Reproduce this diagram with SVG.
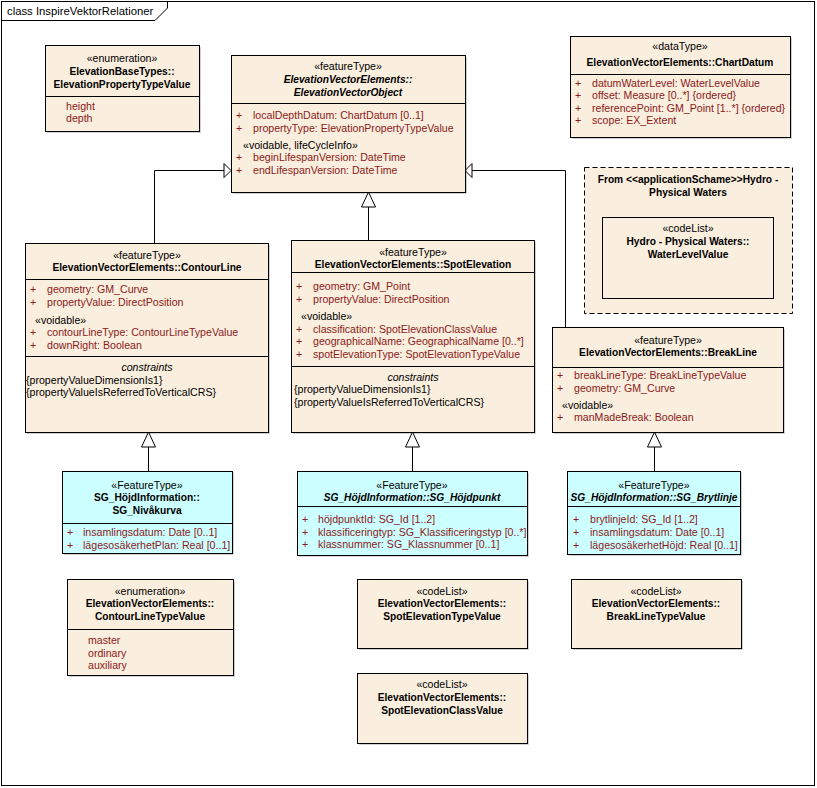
<svg xmlns="http://www.w3.org/2000/svg" width="817" height="788" viewBox="0 0 817 788">
<style>
text{font-family:"Liberation Sans",Arial,sans-serif;font-size:10.6px;fill:#000}
.c{text-anchor:middle}
.b{font-weight:bold;font-size:10.2px}
.bi{font-weight:bold;font-style:italic;font-size:10.2px}
.i{font-style:italic}
.a{fill:#8B1A1A}
.box{fill:#FAEEDE;stroke:#000;stroke-width:1}
.cy{fill:#CCFFFF;stroke:#000;stroke-width:1}
.sh{fill:#000;opacity:0.18}
.ln{stroke:#000;stroke-width:1;fill:none}
.tri{fill:#fff;stroke:#000;stroke-width:1}
</style>
<rect x="0" y="0" width="817" height="788" fill="#fff"/>
<g id="frame">
<rect x="1.5" y="1.5" width="813" height="784" fill="#fff" stroke="#000"/>
<path d="M1.5,20.5 H155 L167.5,8 V1.5" class="ln"/>
<text x="7" y="15" style="font-size:11.3px">class InspireVektorRelationer</text>
</g>

<g id="connectors">
<path d="M154.5,243 V170.5 H224" class="ln"/>
<polygon points="231,170.5 224,163.5 224,177.5" class="tri"/>
<path d="M368.5,240 V207" class="ln"/>
<polygon points="368.5,192 361.5,207 375.5,207" class="tri"/>
<path d="M565.5,327 V170.5 H472" class="ln"/>
<polygon points="465,170.5 472,163.5 472,177.5" class="tri"/>
<path d="M148.5,471 V447" class="ln"/>
<polygon points="148.5,432 141.5,447 155.5,447" class="tri"/>
<path d="M412.5,471 V447" class="ln"/>
<polygon points="412.5,432 405.5,447 419.5,447" class="tri"/>
<path d="M654.5,471 V447" class="ln"/>
<polygon points="654.5,432 647.5,447 661.5,447" class="tri"/>
</g>

<g id="ElevationPropertyTypeValue">
<rect x="47" y="47" width="154" height="86" class="sh"/>
<rect x="45.5" y="45.5" width="154" height="86" class="box"/>
<text x="122" y="62" class="c">«enumeration»</text>
<text x="122" y="75" class="c b">ElevationBaseTypes::</text>
<text x="122" y="88" class="c b">ElevationPropertyTypeValue</text>
<line x1="45.5" y1="96.5" x2="199.5" y2="96.5" class="ln"/>
<text x="66" y="110" class="a">height</text>
<text x="66" y="122" class="a">depth</text>
</g>

<g id="ElevationVectorObject">
<rect x="233" y="57" width="234" height="137" class="sh"/>
<rect x="231.5" y="55.5" width="234" height="137" class="box"/>
<text x="348" y="70" class="c">«featureType»</text>
<text x="348" y="83" class="c bi">ElevationVectorElements::</text>
<text x="348" y="96" class="c bi">ElevationVectorObject</text>
<line x1="231.5" y1="103.5" x2="465.5" y2="103.5" class="ln"/>
<text x="236" y="119" class="a">+</text><text x="253" y="119" class="a">localDepthDatum: ChartDatum [0..1]</text>
<text x="236" y="132" class="a">+</text><text x="253" y="132" class="a">propertyType: ElevationPropertyTypeValue</text>
<text x="243" y="149">«voidable, lifeCycleInfo»</text>
<text x="236" y="161" class="a">+</text><text x="253" y="161" class="a">beginLifespanVersion: DateTime</text>
<text x="236" y="174" class="a">+</text><text x="253" y="174" class="a">endLifespanVersion: DateTime</text>
</g>

<g id="ChartDatum">
<rect x="572" y="38" width="220" height="101" class="sh"/>
<rect x="570.5" y="36.5" width="220" height="101" class="box"/>
<text x="680" y="50" class="c">«dataType»</text>
<text x="680" y="66" class="c b">ElevationVectorElements::ChartDatum</text>
<line x1="570.5" y1="74.5" x2="790.5" y2="74.5" class="ln"/>
<text x="575" y="87" class="a">+</text><text x="592" y="87" class="a">datumWaterLevel: WaterLevelValue</text>
<text x="575" y="99" class="a">+</text><text x="592" y="99" class="a">offset: Measure [0..*] {ordered}</text>
<text x="575" y="112" class="a">+</text><text x="592" y="112" class="a">referencePoint: GM_Point [1..*] {ordered}</text>
<text x="575" y="124" class="a">+</text><text x="592" y="124" class="a">scope: EX_Extent</text>
</g>

<g id="HydroPackage">
<rect x="584.5" y="167.5" width="208" height="146" fill="#FAEEDE" stroke="#000" stroke-dasharray="5,3"/>
<text x="688" y="183" class="c b">From &lt;&lt;applicationSchame&gt;&gt;Hydro -</text>
<text x="688" y="196" class="c b">Physical Waters</text>
<g id="WaterLevelValue">
<rect x="602.5" y="217.5" width="171" height="81" class="box"/>
<text x="688" y="232" class="c">«codeList»</text>
<text x="688" y="245" class="c b">Hydro - Physical Waters::</text>
<text x="688" y="258" class="c b">WaterLevelValue</text>
</g>
</g>

<g id="ContourLine">
<rect x="27" y="245" width="243" height="189" class="sh"/>
<rect x="25.5" y="243.5" width="243" height="189" class="box"/>
<text x="147" y="259" class="c">«featureType»</text>
<text x="147" y="271" class="c b">ElevationVectorElements::ContourLine</text>
<line x1="25.5" y1="279.5" x2="268.5" y2="279.5" class="ln"/>
<text x="30" y="293" class="a">+</text><text x="47" y="293" class="a">geometry: GM_Curve</text>
<text x="30" y="306" class="a">+</text><text x="47" y="306" class="a">propertyValue: DirectPosition</text>
<text x="35" y="324">«voidable»</text>
<text x="30" y="336" class="a">+</text><text x="47" y="336" class="a">contourLineType: ContourLineTypeValue</text>
<text x="30" y="349" class="a">+</text><text x="47" y="349" class="a">downRight: Boolean</text>
<line x1="25.5" y1="356.5" x2="268.5" y2="356.5" class="ln"/>
<text x="147" y="371" class="c i">constraints</text>
<text x="26" y="384">{propertyValueDimensionIs1}</text>
<text x="26" y="396">{propertyValueIsReferredToVerticalCRS}</text>
</g>

<g id="SpotElevation">
<rect x="293" y="242" width="243" height="192" class="sh"/>
<rect x="291.5" y="240.5" width="243" height="192" class="box"/>
<text x="413" y="256" class="c">«featureType»</text>
<text x="413" y="268" class="c b">ElevationVectorElements::SpotElevation</text>
<line x1="291.5" y1="272.5" x2="534.5" y2="272.5" class="ln"/>
<text x="296" y="290" class="a">+</text><text x="313" y="290" class="a">geometry: GM_Point</text>
<text x="296" y="303" class="a">+</text><text x="313" y="303" class="a">propertyValue: DirectPosition</text>
<text x="301" y="320">«voidable»</text>
<text x="296" y="333" class="a">+</text><text x="313" y="333" class="a">classification: SpotElevationClassValue</text>
<text x="296" y="345" class="a">+</text><text x="313" y="345" class="a">geographicalName: GeographicalName [0..*]</text>
<text x="296" y="358" class="a">+</text><text x="313" y="358" class="a">spotElevationType: SpotElevationTypeValue</text>
<line x1="291.5" y1="366.5" x2="534.5" y2="366.5" class="ln"/>
<text x="413" y="381" class="c i">constraints</text>
<text x="294" y="393">{propertyValueDimensionIs1}</text>
<text x="294" y="406">{propertyValueIsReferredToVerticalCRS}</text>
</g>

<g id="BreakLine">
<rect x="554" y="329" width="231" height="105" class="sh"/>
<rect x="552.5" y="327.5" width="231" height="105" class="box"/>
<text x="668" y="344" class="c">«featureType»</text>
<text x="668" y="356" class="c b">ElevationVectorElements::BreakLine</text>
<line x1="552.5" y1="367.5" x2="783.5" y2="367.5" class="ln"/>
<text x="557" y="379" class="a">+</text><text x="574" y="379" class="a">breakLineType: BreakLineTypeValue</text>
<text x="557" y="392" class="a">+</text><text x="574" y="392" class="a">geometry: GM_Curve</text>
<text x="562" y="409">«voidable»</text>
<text x="557" y="421" class="a">+</text><text x="574" y="421" class="a">manMadeBreak: Boolean</text>
</g>

<g id="SG_Nivakurva">
<rect x="64" y="473" width="170" height="82" class="sh"/>
<rect x="62.5" y="471.5" width="170" height="82" class="cy"/>
<text x="147" y="489" class="c">«FeatureType»</text>
<text x="147" y="501" class="c b">SG_HöjdInformation::</text>
<text x="147" y="514" class="c b">SG_Nivåkurva</text>
<line x1="62.5" y1="523.5" x2="232.5" y2="523.5" class="ln"/>
<text x="67" y="536" class="a">+</text><text x="83" y="536" class="a">insamlingsdatum: Date [0..1]</text>
<text x="67" y="549" class="a">+</text><text x="83" y="549" class="a">lägesosäkerhetPlan: Real [0..1]</text>
</g>

<g id="SG_Hojdpunkt">
<rect x="299" y="473" width="230" height="84" class="sh"/>
<rect x="297.5" y="471.5" width="230" height="84" class="cy"/>
<text x="412" y="489" class="c">«FeatureType»</text>
<text x="412" y="501" class="c bi">SG_HöjdInformation::SG_Höjdpunkt</text>
<line x1="297.5" y1="506.5" x2="527.5" y2="506.5" class="ln"/>
<text x="302" y="523" class="a">+</text><text x="318" y="523" class="a">höjdpunktId: SG_Id [1..2]</text>
<text x="302" y="536" class="a">+</text><text x="318" y="536" class="a">klassificeringtyp: SG_Klassificeringstyp [0..*]</text>
<text x="302" y="548" class="a">+</text><text x="318" y="548" class="a">klassnummer: SG_Klassnummer [0..1]</text>
</g>

<g id="SG_Brytlinje">
<rect x="569" y="473" width="173" height="83" class="sh"/>
<rect x="567.5" y="471.5" width="173" height="83" class="cy"/>
<text x="654" y="489" class="c">«FeatureType»</text>
<text x="654" y="501" class="c bi">SG_HöjdInformation::SG_Brytlinje</text>
<line x1="567.5" y1="506.5" x2="740.5" y2="506.5" class="ln"/>
<text x="573" y="523" class="a">+</text><text x="590" y="523" class="a">brytlinjeId: SG_Id [1..2]</text>
<text x="573" y="536" class="a">+</text><text x="590" y="536" class="a">insamlingsdatum: Date [0..1]</text>
<text x="573" y="549" class="a">+</text><text x="590" y="549" class="a">lägesosäkerhetHöjd: Real [0..1]</text>
</g>

<g id="ContourLineTypeValue">
<rect x="69" y="581" width="166" height="96" class="sh"/>
<rect x="67.5" y="579.5" width="166" height="96" class="box"/>
<text x="150" y="595" class="c">«enumeration»</text>
<text x="150" y="607" class="c b">ElevationVectorElements::</text>
<text x="150" y="620" class="c b">ContourLineTypeValue</text>
<line x1="67.5" y1="629.5" x2="233.5" y2="629.5" class="ln"/>
<text x="88" y="644" class="a">master</text>
<text x="88" y="657" class="a">ordinary</text>
<text x="88" y="669" class="a">auxiliary</text>
</g>

<g id="SpotElevationTypeValue">
<rect x="359" y="581" width="170" height="69" class="sh"/>
<rect x="357.5" y="579.5" width="170" height="69" class="box"/>
<text x="442" y="595" class="c">«codeList»</text>
<text x="442" y="607" class="c b">ElevationVectorElements::</text>
<text x="442" y="620" class="c b">SpotElevationTypeValue</text>
</g>

<g id="BreakLineTypeValue">
<rect x="573" y="581" width="170" height="69" class="sh"/>
<rect x="571.5" y="579.5" width="170" height="69" class="box"/>
<text x="656" y="595" class="c">«codeList»</text>
<text x="656" y="607" class="c b">ElevationVectorElements::</text>
<text x="656" y="620" class="c b">BreakLineTypeValue</text>
</g>

<g id="SpotElevationClassValue">
<rect x="359" y="675" width="170" height="70" class="sh"/>
<rect x="357.5" y="673.5" width="170" height="70" class="box"/>
<text x="442" y="688" class="c">«codeList»</text>
<text x="442" y="701" class="c b">ElevationVectorElements::</text>
<text x="442" y="714" class="c b">SpotElevationClassValue</text>
</g>
</svg>
